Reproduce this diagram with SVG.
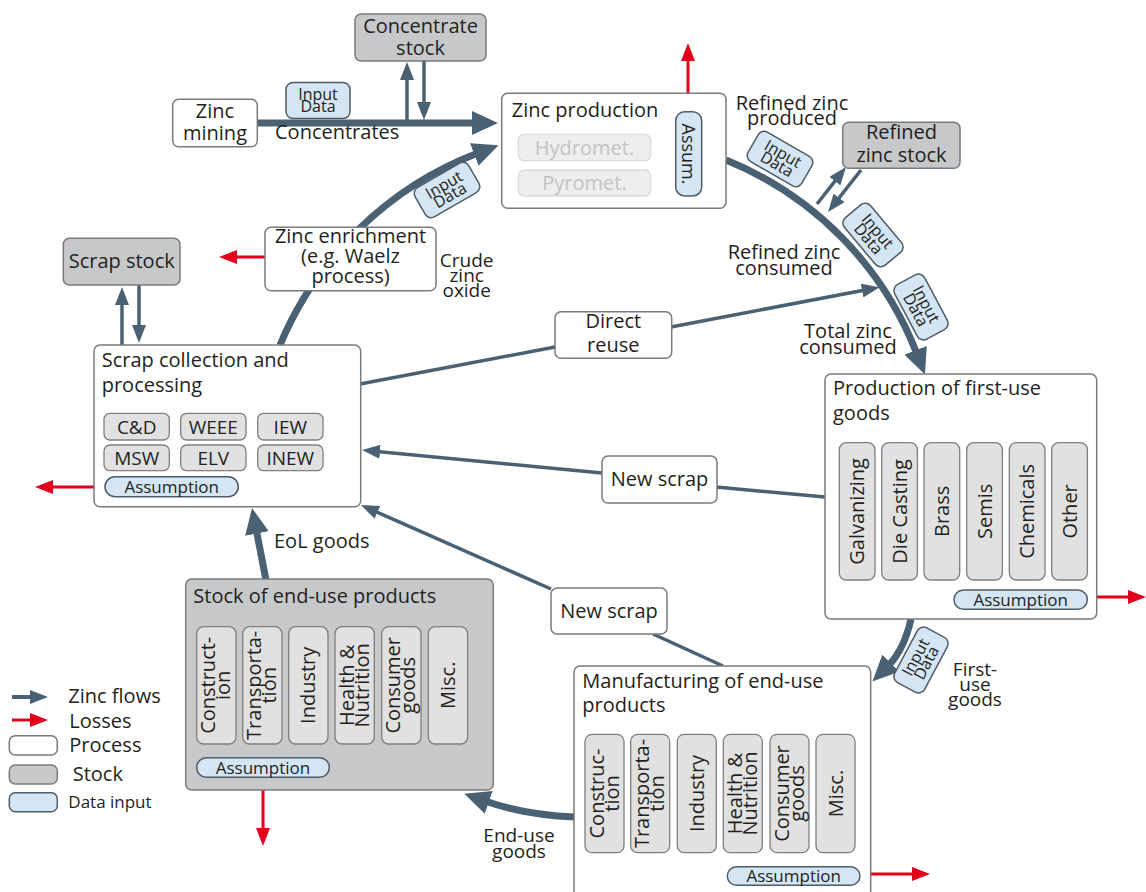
<svg xmlns="http://www.w3.org/2000/svg" width="1146" height="892" viewBox="0 0 1146 892">
<style>
text{font-family:"Open Sans","DejaVu Sans",sans-serif;fill:#231f20;font-size:20px}
.c{text-anchor:middle}
.proc{fill:#fff;stroke:#7b7b7b;stroke-width:1.5}
.stock{fill:#c6c8ca;stroke:#7b7b7b;stroke-width:1.5}
.data{fill:#d4e5f4;stroke:#4f5b66;stroke-width:1.5}
.sub{fill:#e1e1e1;stroke:#7f7f7f;stroke-width:1.3}
.ghost{fill:#eeeeee;stroke:#dadada;stroke-width:1.3}
.gt{fill:#c3c3c3}
.dt{font-size:16px}
.s19{font-size:19px}
.s17{font-size:17px}
.s18{font-size:18px}
.flow{fill:none;stroke:#4a6174}
.thin{stroke-width:3.5}
.thick{stroke-width:7}
.loss{fill:none;stroke:#e2001a;stroke-width:3}
</style>
<defs>
<marker id="ah" viewBox="0 0 18 14" refX="3" refY="7" markerWidth="18" markerHeight="14" orient="auto" markerUnits="userSpaceOnUse"><path d="M0,0 L18,7 L0,14 z" fill="#4a6174"/></marker>
<marker id="ahT" viewBox="0 0 26 24" refX="4" refY="12" markerWidth="26" markerHeight="24" orient="auto" markerUnits="userSpaceOnUse"><path d="M0,0 L26,12 L0,24 z" fill="#4a6174"/></marker>
<marker id="ahR" viewBox="0 0 18 14" refX="3" refY="7" markerWidth="18" markerHeight="14" orient="auto" markerUnits="userSpaceOnUse"><path d="M0,0 L18,7 L0,14 z" fill="#e2001a"/></marker>
</defs>

<g id="connectors">
<path class="flow thick" d="M257,123 L476,123" marker-end="url(#ahT)"/>
<path class="flow thin" d="M407,121 L407,77" marker-end="url(#ah)"/>
<path class="flow thin" d="M424,61 L424,105" marker-end="url(#ah)"/>
<path class="flow thick" d="M280,345 A350,350 0 0 1 478,153" marker-end="url(#ahT)"/>
<path class="flow thick" d="M726,160 A343,343 0 0 1 917,354" marker-end="url(#ahT)"/>
<path class="flow thin" d="M817,204 L836.7,178.8" marker-end="url(#ah)"/>
<path class="flow thin" d="M861,170 L837.3,200.2" marker-end="url(#ah)"/>
<path class="flow thin" d="M122,345 L122,302" marker-end="url(#ah)"/>
<path class="flow thin" d="M139,285 L139,328" marker-end="url(#ah)"/>
<path class="flow thin" d="M360,384 L555,347"/>
<path class="flow thin" d="M671,327 L865,290" marker-end="url(#ah)"/>
<path class="flow thin" d="M825,497 L716,487"/>
<path class="flow thin" d="M602,473 L377,451.4" marker-end="url(#ah)"/>
<path class="flow thin" d="M723,666 L653,634"/>
<path class="flow thin" d="M551,589 L374.7,511.1" marker-end="url(#ah)"/>
<path class="flow thick" d="M266,580 L256.2,529.6" marker-end="url(#ahT)"/>
<path class="flow thick" d="M911,619 Q904,650 888,666" marker-end="url(#ahT)"/>
<path class="flow thick" d="M575,817 Q525,815 485,801" marker-end="url(#ahT)"/>
<path class="loss" d="M688,93 L688,58" marker-end="url(#ahR)"/>
<path class="loss" d="M265,257 L234,257" marker-end="url(#ahR)"/>
<path class="loss" d="M94,487 L50,487" marker-end="url(#ahR)"/>
<path class="loss" d="M1097,597 L1131,597" marker-end="url(#ahR)"/>
<path class="loss" d="M871,874 L915,874" marker-end="url(#ahR)"/>
<path class="loss" d="M263,790 L263,831" marker-end="url(#ahR)"/>
</g>

<g id="concentrate-stock"><rect class="stock" x="355" y="14" width="131" height="47" rx="6"/><text class="c" x="420.5" y="33">Concentrate</text><text class="c" x="420.5" y="55">stock</text></g>

<g id="zinc-mining"><rect class="proc" x="172.7" y="99.3" width="84.6" height="47.4" rx="6"/><text class="c" x="215" y="118">Zinc</text><text class="c" x="215" y="140">mining</text></g>

<text x="275" y="139">Concentrates</text>

<g id="data-concentrates" transform="translate(318,100.5)"><rect class="data" x="-32" y="-18" width="64" height="36" rx="7"/><text class="c dt" x="0" y="-0.5">Input</text><text class="c dt" x="0" y="11.5">Data</text></g>

<g id="zinc-production"><rect class="proc" x="501.7" y="93.3" width="224.3" height="115" rx="6"/><text x="511.7" y="116.7">Zinc production</text>
<rect class="ghost" x="518.3" y="134.3" width="132.4" height="26.4" rx="6"/><text class="c gt" x="584.5" y="154.5">Hydromet.</text>
<rect class="ghost" x="518.3" y="170" width="132.4" height="26" rx="6"/><text class="c gt" x="584.5" y="189.5">Pyromet.</text>
<rect class="data" x="675.7" y="111.7" width="26" height="84.3" rx="9"/><text class="c s18" transform="translate(688.7,154) rotate(90)" x="0" y="6.5">Assum.</text></g>

<text class="c" x="792" y="110">Refined zinc</text><text class="c" x="792" y="125">produced</text>

<g id="refined-zinc-stock"><rect class="stock" x="842.7" y="122.3" width="117.3" height="46" rx="6"/><text class="c" x="901.5" y="138.5">Refined</text><text class="c" x="901.5" y="161.5">zinc stock</text></g>

<g id="data-refined-produced" transform="translate(780,159) rotate(30)"><rect class="data" x="-31" y="-17" width="62" height="34" rx="7"/><text class="c dt" x="0" y="-0.5">Input</text><text class="c dt" x="0" y="11.5">Data</text></g>
<g id="data-refined-consumed" transform="translate(873,235) rotate(50)"><rect class="data" x="-31" y="-17" width="62" height="34" rx="7"/><text class="c dt" x="0" y="-0.5">Input</text><text class="c dt" x="0" y="11.5">Data</text></g>
<g id="data-total" transform="translate(921,307) rotate(62)"><rect class="data" x="-31" y="-17" width="62" height="34" rx="7"/><text class="c dt" x="0" y="-0.5">Input</text><text class="c dt" x="0" y="11.5">Data</text></g>
<g id="data-crude" transform="translate(447,190) rotate(-30)"><rect class="data" x="-31" y="-17" width="62" height="34" rx="7"/><text class="c dt" x="0" y="-0.5">Input</text><text class="c dt" x="0" y="11.5">Data</text></g>
<g id="data-firstuse" transform="translate(921,660) rotate(-62)"><rect class="data" x="-31" y="-17" width="62" height="34" rx="7"/><text class="c dt" x="0" y="-0.5">Input</text><text class="c dt" x="0" y="11.5">Data</text></g>

<text class="c" x="784" y="259">Refined zinc</text><text class="c" x="784" y="275">consumed</text>
<text class="c" x="848" y="338">Total zinc</text><text class="c" x="848" y="354">consumed</text>

<g id="zinc-enrichment"><rect class="proc" x="265" y="227.3" width="171" height="63.4" rx="6"/><text class="c" x="350.5" y="243">Zinc enrichment</text><text class="c" x="350.5" y="263">(e.g. Waelz</text><text class="c" x="350.5" y="283">process)</text></g>
<text class="c s19" x="466.7" y="266.7">Crude</text><text class="c s19" x="466.7" y="281.7">zinc</text><text class="c s19" x="466.7" y="297">oxide</text>

<g id="scrap-stock"><rect class="stock" x="63.3" y="238.3" width="116.7" height="46.7" rx="6"/><text class="c" x="121.7" y="268">Scrap stock</text></g>

<g id="direct-reuse"><rect class="proc" x="555" y="311.7" width="116.7" height="46.6" rx="6"/><text class="c" x="613.3" y="328">Direct</text><text class="c" x="613.3" y="352">reuse</text></g>

<g id="scrap-collection"><rect class="proc" x="94" y="345" width="266.7" height="161.7" rx="6"/><text x="101.7" y="366.7">Scrap collection and</text><text x="101.7" y="391.7">processing</text>
<rect class="sub" x="104" y="413.3" width="65.3" height="26.7" rx="6"/><text class="c s19" x="136.7" y="433.5">C&amp;D</text>
<rect class="sub" x="180.7" y="413.3" width="65.3" height="26.7" rx="6"/><text class="c s19" x="213.3" y="433.5">WEEE</text>
<rect class="sub" x="257.7" y="413.3" width="65.3" height="26.7" rx="6"/><text class="c s19" x="290.3" y="433.5">IEW</text>
<rect class="sub" x="104" y="445" width="65.3" height="25.7" rx="6"/><text class="c s19" x="136.7" y="464.5">MSW</text>
<rect class="sub" x="180.7" y="445" width="65.3" height="25.7" rx="6"/><text class="c s19" x="213.3" y="464.5">ELV</text>
<rect class="sub" x="257.7" y="445" width="65.3" height="25.7" rx="6"/><text class="c s19" x="290.3" y="464.5">INEW</text>
<rect class="data" x="105" y="476.7" width="133.3" height="20" rx="10"/><text class="c s17" x="171.7" y="493">Assumption</text></g>

<g id="new-scrap-1"><rect class="proc" x="602" y="456" width="115" height="47" rx="6"/><text class="c" x="659.5" y="486">New scrap</text></g>
<g id="new-scrap-2"><rect class="proc" x="551" y="588" width="116" height="46" rx="6"/><text class="c" x="609" y="618">New scrap</text></g>

<text x="274" y="548">EoL goods</text>

<g id="production-first-use"><rect class="proc" x="825" y="374" width="271.7" height="245" rx="6"/><text x="833" y="395">Production of first-use</text><text x="833" y="420">goods</text>
<rect class="sub" x="839.3" y="442.7" width="35.7" height="137.3" rx="7"/><text class="c" transform="translate(857.2,511.4) rotate(-90)" x="0" y="7">Galvanizing</text>
<rect class="sub" x="881.7" y="442.7" width="35.7" height="137.3" rx="7"/><text class="c" transform="translate(899.5,511.4) rotate(-90)" x="0" y="7">Die Casting</text>
<rect class="sub" x="924" y="442.7" width="35.7" height="137.3" rx="7"/><text class="c" transform="translate(941.8,511.4) rotate(-90)" x="0" y="7">Brass</text>
<rect class="sub" x="966.7" y="442.7" width="35.7" height="137.3" rx="7"/><text class="c" transform="translate(984.5,511.4) rotate(-90)" x="0" y="7">Semis</text>
<rect class="sub" x="1009.3" y="442.7" width="35.7" height="137.3" rx="7"/><text class="c" transform="translate(1027.2,511.4) rotate(-90)" x="0" y="7">Chemicals</text>
<rect class="sub" x="1051.7" y="442.7" width="35.7" height="137.3" rx="7"/><text class="c" transform="translate(1069.5,511.4) rotate(-90)" x="0" y="7">Other</text>
<rect class="data" x="954" y="590" width="133.3" height="19.3" rx="9.5"/><text class="c s17" x="1020.7" y="605.5">Assumption</text></g>

<text class="c s19" x="975" y="676">First-</text><text class="c s19" x="975" y="691">use</text><text class="c s19" x="975" y="706">goods</text>

<g id="manufacturing"><rect class="proc" x="574" y="666" width="296.7" height="240" rx="6"/><text x="582.3" y="688.3">Manufacturing of end-use</text><text x="582.3" y="711.7">products</text>
<rect class="sub" x="585" y="734.3" width="39" height="118.4" rx="7"/><text class="c" transform="translate(604.5,793.5) rotate(-90)"><tspan x="0" y="-1">Construc-</tspan><tspan x="0" y="14">tion</tspan></text>
<rect class="sub" x="630.7" y="734.3" width="39" height="118.4" rx="7"/><text class="c" transform="translate(650.2,793.5) rotate(-90)"><tspan x="0" y="-1">Transporta-</tspan><tspan x="0" y="14">tion</tspan></text>
<rect class="sub" x="677.3" y="734.3" width="39" height="118.4" rx="7"/><text class="c" transform="translate(696.8,793.5) rotate(-90)" x="0" y="7">Industry</text>
<rect class="sub" x="723.3" y="734.3" width="39" height="118.4" rx="7"/><text class="c" transform="translate(742.8,793.5) rotate(-90)"><tspan x="0" y="-1">Health &amp;</tspan><tspan x="0" y="14">Nutrition</tspan></text>
<rect class="sub" x="770" y="734.3" width="39" height="118.4" rx="7"/><text class="c" transform="translate(789.5,793.5) rotate(-90)"><tspan x="0" y="-1">Consumer</tspan><tspan x="0" y="14">goods</tspan></text>
<rect class="sub" x="816" y="734.3" width="39" height="118.4" rx="7"/><text class="c" transform="translate(835.5,793.5) rotate(-90)" x="0" y="7">Misc.</text>
<rect class="data" x="727.3" y="866.7" width="132.7" height="18.6" rx="9.3"/><text class="c s17" x="793.7" y="882">Assumption</text></g>

<text class="c s19" x="519" y="842">End-use</text><text class="c s19" x="519" y="858">goods</text>

<g id="stock-end-use"><rect class="stock" x="185.7" y="579" width="307.6" height="211" rx="6"/><text x="193.3" y="603.3">Stock of end-use products</text>
<rect class="sub" x="196.7" y="626.7" width="39.3" height="117.3" rx="7"/><text class="c" transform="translate(216.4,685.3) rotate(-90)"><tspan x="0" y="-1">Construct-</tspan><tspan x="0" y="14">ion</tspan></text>
<rect class="sub" x="242.7" y="626.7" width="39.3" height="117.3" rx="7"/><text class="c" transform="translate(262.4,685.3) rotate(-90)"><tspan x="0" y="-1">Transporta-</tspan><tspan x="0" y="14">tion</tspan></text>
<rect class="sub" x="288.7" y="626.7" width="39.3" height="117.3" rx="7"/><text class="c" transform="translate(308.4,685.3) rotate(-90)" x="0" y="7">Industry</text>
<rect class="sub" x="335" y="626.7" width="39.3" height="117.3" rx="7"/><text class="c" transform="translate(354.7,685.3) rotate(-90)"><tspan x="0" y="-1">Health &amp;</tspan><tspan x="0" y="14">Nutrition</tspan></text>
<rect class="sub" x="381.7" y="626.7" width="39.3" height="117.3" rx="7"/><text class="c" transform="translate(401.4,685.3) rotate(-90)"><tspan x="0" y="-1">Consumer</tspan><tspan x="0" y="14">goods</tspan></text>
<rect class="sub" x="428.3" y="626.7" width="39.3" height="117.3" rx="7"/><text class="c" transform="translate(448,685.3) rotate(-90)" x="0" y="7">Misc.</text>
<rect class="data" x="196.7" y="757.7" width="132.6" height="19.6" rx="9.8"/><text class="c s17" x="263" y="773.5">Assumption</text></g>

<g id="legend">
<path class="flow" stroke-width="4" d="M12,697 L33,697" marker-end="url(#ah)"/>
<path class="loss" d="M12,720 L33,720" marker-end="url(#ahR)"/>
<rect class="proc" x="9.3" y="735.7" width="48" height="19.3" rx="6"/>
<rect class="stock" x="9.3" y="765" width="48" height="19" rx="6"/>
<rect class="data" x="9.3" y="792.7" width="48" height="19" rx="6"/>
<text x="68.3" y="703.3">Zinc flows</text>
<text x="69.3" y="727.7">Losses</text>
<text x="69.3" y="751.7">Process</text>
<text x="72.7" y="780.7">Stock</text>
<text class="s17" x="68.3" y="808.3">Data input</text>
</g>
</svg>
